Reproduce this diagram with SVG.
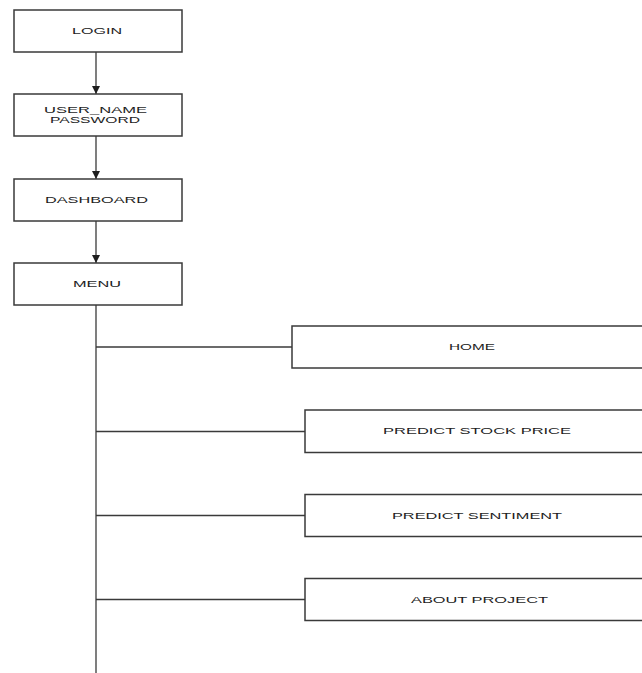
<svg xmlns="http://www.w3.org/2000/svg" width="642" height="673" viewBox="0 0 642 673">
<style>
.box{fill:#ffffff;stroke:#3a3a3a;stroke-width:1.5}
.t{font-family:"Liberation Sans",Arial,sans-serif;font-size:9px;fill:#1e1e1e}
.c{fill:none;stroke:#3a3a3a;stroke-width:1.3}
</style>
<defs>
<marker id="ah" viewBox="0 0 10 10" refX="10" refY="5" markerWidth="8" markerHeight="8" markerUnits="userSpaceOnUse" orient="auto">
<path d="M0,0 L10,5 L0,10 Z" fill="#1e1e1e"/>
</marker>
</defs>
<rect width="642" height="673" fill="#ffffff"/>
<g id="connectors">
<line class="c" x1="96" y1="52" x2="96" y2="94" marker-end="url(#ah)"/>
<line class="c" x1="96" y1="136" x2="96" y2="179" marker-end="url(#ah)"/>
<line class="c" x1="96" y1="221" x2="96" y2="263" marker-end="url(#ah)"/>
<line class="c" x1="96" y1="305" x2="96" y2="673"/>
<line class="c" x1="96" y1="347" x2="292" y2="347"/>
<line class="c" x1="96" y1="431.5" x2="305" y2="431.5"/>
<line class="c" x1="96" y1="515.5" x2="305" y2="515.5"/>
<line class="c" x1="96" y1="599.5" x2="305" y2="599.5"/>
</g>
<g id="login">
<rect class="box" x="14" y="10" width="168" height="42"/>
<text class="t" x="72" y="34.3" textLength="50" lengthAdjust="spacingAndGlyphs">LOGIN</text>
</g>
<g id="credentials">
<rect class="box" x="14" y="94" width="168" height="42"/>
<text class="t" x="44" y="113" textLength="103" lengthAdjust="spacingAndGlyphs">USER_NAME</text>
<text class="t" x="50" y="123.3" textLength="90" lengthAdjust="spacingAndGlyphs">PASSWORD</text>
</g>
<g id="dashboard">
<rect class="box" x="14" y="179" width="168" height="42"/>
<text class="t" x="45" y="203.3" textLength="103" lengthAdjust="spacingAndGlyphs">DASHBOARD</text>
</g>
<g id="menu">
<rect class="box" x="14" y="263" width="168" height="42"/>
<text class="t" x="73" y="287.3" textLength="48" lengthAdjust="spacingAndGlyphs">MENU</text>
</g>
<g id="home">
<rect class="box" x="292" y="326" width="400" height="42"/>
<text class="t" x="449" y="350" textLength="46" lengthAdjust="spacingAndGlyphs">HOME</text>
</g>
<g id="predict-stock">
<rect class="box" x="305" y="410" width="400" height="42.5"/>
<text class="t" x="383" y="434.3" textLength="188" lengthAdjust="spacingAndGlyphs">PREDICT STOCK PRICE</text>
</g>
<g id="predict-sentiment">
<rect class="box" x="305" y="494.5" width="400" height="42"/>
<text class="t" x="392" y="518.5" textLength="170" lengthAdjust="spacingAndGlyphs">PREDICT SENTIMENT</text>
</g>
<g id="about">
<rect class="box" x="305" y="578.5" width="400" height="42"/>
<text class="t" x="411" y="602.5" textLength="137" lengthAdjust="spacingAndGlyphs">ABOUT PROJECT</text>
</g>
</svg>
